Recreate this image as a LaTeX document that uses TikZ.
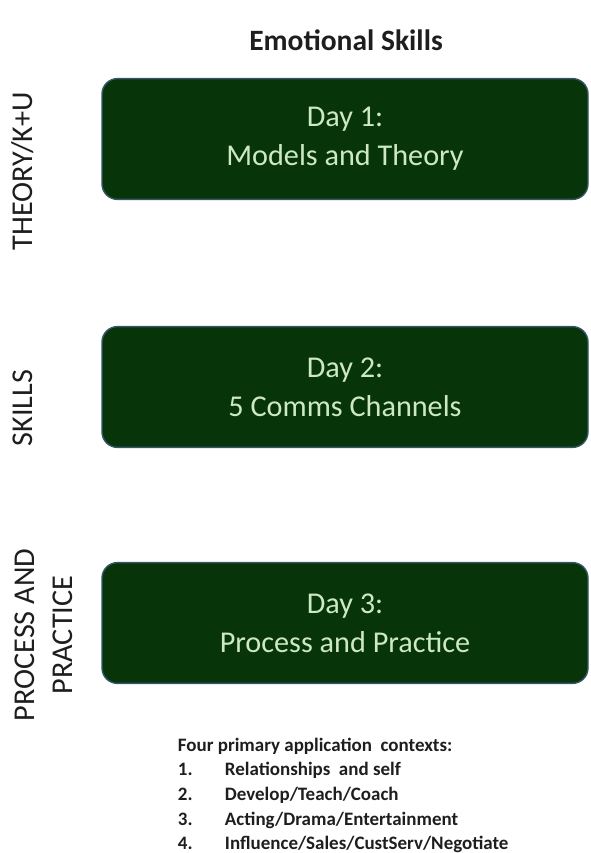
\documentclass[tikz,border=0pt]{standalone}
\usepackage{fontspec}
\setmainfont{Carlito}
\usepackage{xcolor}
\usepackage{tikz}
\usetikzlibrary{positioning}
\definecolor{daygreen}{HTML}{073408}
\definecolor{dayedge}{HTML}{34586A}
\definecolor{daytext}{HTML}{CDE8C4}
\definecolor{inkgray}{HTML}{1E1E1E}

\begin{document}
\begin{tikzpicture}[font=\fontsize{21.5pt}{26pt}\selectfont, text=inkgray]
  \useasboundingbox (0,0) rectangle (14.775,-21.325);
  % title
  \node[anchor=base, font=\fontsize{21pt}{25pt}\selectfont\bfseries] (title) at (8.65,-1.25) {Emotional Skills};
  % day boxes
  \foreach \i/\y/\w in {1/-3.475/Models and Theory, 2/-9.675/5 Comms Channels, 3/-15.575/Process and Practice} {
    \node[fill=daygreen, draw=dayedge, line width=1pt, rounded corners=11pt, minimum width=12.15cm, minimum height=3.02cm,
          text=daytext, align=center, font=\fontsize{21.5pt}{27.5pt}\selectfont] (day\i) at (8.625,\y) {Day \i:\\\w};
  }
  % side labels (rotated, placed by baseline)
  \node[rotate=90, anchor=base] (lbl-theory) at (0.8,-4.28) {THEORY/K+U};
  \node[rotate=90, anchor=base] (lbl-skills) at (0.8,-10.2) {SKILLS};
  \node[rotate=90, anchor=base] (lbl-process) at (0.875,-15.875) {PROCESS AND};
  \node[rotate=90, anchor=base] (lbl-practice) at (1.8,-15.875) {PRACTICE};
  % application contexts
  \begin{scope}[every node/.style={anchor=base west, font=\fontsize{13.5pt}{16pt}\selectfont\bfseries}]
    \node (ctx) at (4.325,-18.78) {Four primary application \ contexts:};
    \foreach \n/\y/\t in {1/-19.375/{Relationships \ and self}, 2/-20.0/{Develop/Teach/Coach}, 3/-20.625/{Acting/Drama/Entertainment}, 4/-21.225/{Influence/Sales/CustServ/Negotiate}} {
      \node (num\n) at (4.325,\y) {\n.};
      \node (ctx\n) at (5.5,\y) {\t};
    }
  \end{scope}
\end{tikzpicture}
\end{document}
